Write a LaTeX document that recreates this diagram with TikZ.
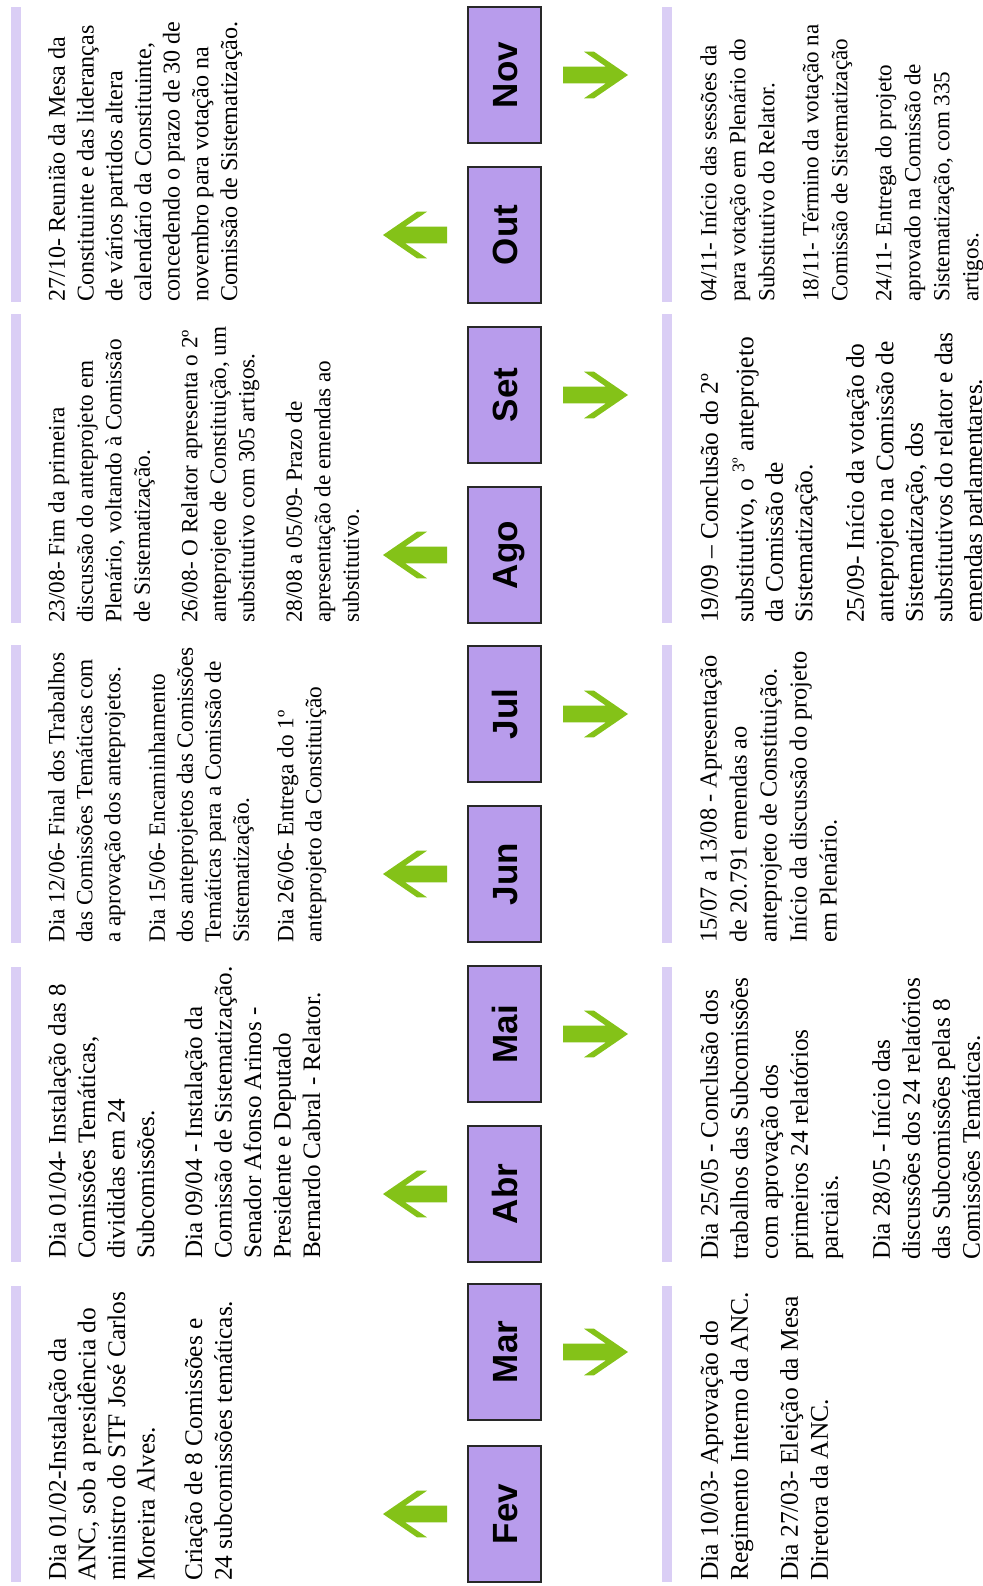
\documentclass[tikz,border=0pt]{standalone}
\usepackage{fontspec}
\setmainfont{Liberation Serif}
\newfontfamily\monthfont{Liberation Sans}
\newcommand\fsz[2]{\fontsize{#1}{#2}\selectfont}
\definecolor{boxfill}{RGB}{184,156,236}
\definecolor{boxline}{RGB}{40,40,40}
\definecolor{barcol}{RGB}{218,206,245}
\definecolor{agreen}{RGB}{132,194,24}
\tikzset{
  month/.style={draw=boxline, line width=1.5pt, fill=boxfill, rotate=90,
    minimum width=136pt, minimum height=73pt, inner sep=0pt,
    font=\monthfont\bfseries\fsz{35}{40}, text height=25pt, text depth=0pt},
  evt/.style={rotate=90, anchor=north west, inner sep=0pt, align=left},
  bar/.style={fill=barcol},
  larr/.pic={\fill[agreen] (0,0) -- (34,23.3) -- (44,23.3) -- (22,8.3) -- (64,8.3) -- (64,-8.3) -- (22,-8.3) -- (44,-23.3) -- (34,-23.3) -- cycle;},
  rarr/.pic={\fill[agreen] (0,0) -- (-34,23.3) -- (-44,23.3) -- (-22,8.3) -- (-65,8.3) -- (-65,-8.3) -- (-22,-8.3) -- (-44,-23.3) -- (-34,-23.3) -- cycle;}
}
\begin{document}
\begin{tikzpicture}[x=1pt,y=1pt]
\useasboundingbox (0,0) rectangle (982,-1586);
\fill[white] (0,0) rectangle (982,-1586);

% vertical bars
\fill[bar] (11,-7) rectangle (21,-302);
\fill[bar] (11,-314) rectangle (21,-623);
\fill[bar] (11,-645) rectangle (21,-943);
\fill[bar] (11,-967) rectangle (21,-1262);
\fill[bar] (11,-1286) rectangle (21,-1582);
\fill[bar] (662,-7) rectangle (672,-302);
\fill[bar] (662,-314) rectangle (672,-623);
\fill[bar] (662,-645) rectangle (672,-943);
\fill[bar] (662,-967) rectangle (672,-1262);
\fill[bar] (662,-1286) rectangle (672,-1582);

% month boxes
\node[month] (fev) at (504.5,-1514) {Fev};
\node[month] (mar) at (504.5,-1352) {Mar};
\node[month] (abr) at (504.5,-1194) {Abr};
\node[month] (mai) at (504.5,-1034) {Mai};
\node[month] (jun) at (504.5,-874) {Jun};
\node[month] (jul) at (504.5,-714) {Jul};
\node[month] (ago) at (504.5,-555) {Ago};
\node[month] (set) at (504.5,-395) {Set};
\node[month] (out) at (504.5,-235) {Out};
\node[month] (nov) at (504.5,-75) {Nov};

% arrows
\pic at ([xshift=-121.5pt]fev.center) {larr};
\pic at ([xshift=-121.5pt]abr.center) {larr};
\pic at ([xshift=-121.5pt]jun.center) {larr};
\pic at ([xshift=-121.5pt]ago.center) {larr};
\pic at ([xshift=-121.5pt]out.center) {larr};
\pic at ([xshift=123.5pt]mar.center) {rarr};
\pic at ([xshift=123.5pt]mai.center) {rarr};
\pic at ([xshift=123.5pt]jul.center) {rarr};
\pic at ([xshift=123.5pt]set.center) {rarr};
\pic at ([xshift=123.5pt]nov.center) {rarr};

% texts
\node[evt, font=\fsz{25.4}{29.6}] (tfev) at (48,-1581) {Dia 01/02-Instalação da\\ANC, sob a presidência do\\ministro do STF José Carlos\\Moreira Alves.\\[18pt]Criação de 8 Comissões e\\24 subcomissões temáticas.};
\node[evt, font=\fsz{25.5}{30}] (bfev) at (700,-1581) {Dia 10/03- Aprovação do\\Regimento Interno da ANC.\\[20pt]Dia 27/03- Eleição da Mesa\\Diretora da ANC.};

\node[evt, font=\fsz{25.1}{29.5}] (tabr) at (48,-1259) {Dia 01/04- Instalação das 8\\Comissões Temáticas,\\divididas em 24\\Subcomissões.\\[18.5pt]Dia 09/04 - Instalação da\\Comissão de Sistematização.\\Senador Afonso Arinos -\\Presidente e Deputado\\Bernardo Cabral - Relator.};
\node[evt, font=\fsz{25.3}{30}] (babr) at (700,-1260) {Dia 25/05 - Conclusão dos\\trabalhos das Subcomissões\\com aprovação dos\\primeiros 24 relatórios\\parciais.\\[22pt]Dia 28/05 - Início das\\discussões dos 24 relatórios\\das Subcomissões pelas 8\\Comissões Temáticas.};

\node[evt, font=\fsz{23.3}{28}] (tjun) at (48,-943) {Dia 12/06- Final dos Trabalhos\\das Comissões Temáticas com\\a aprovação dos anteprojetos.\\[16.5pt]Dia 15/06- Encaminhamento\\dos anteprojetos das Comissões\\Temáticas para a Comissão de\\Sistematização.\\[16.5pt]Dia 26/06- Entrega do 1º\\anteprojeto da Constituição};
\node[evt, font=\fsz{24.4}{30}] (bjun) at (700,-943) {15/07 a 13/08 - Apresentação\\de 20.791 emendas ao\\anteprojeto de Constituição.\\Início da discussão do projeto\\em Plenário.};

\node[evt, font=\fsz{23.2}{28.5}] (tago) at (48,-623) {23/08- Fim da primeira\\discussão do anteprojeto em\\Plenário, voltando à Comissão\\de Sistematização.\\[19pt]26/08- O Relator apresenta o 2º\\anteprojeto de Constituição, um\\substitutivo com 305 artigos.\\[19pt]28/08 a 05/09- Prazo de\\apresentação de emendas ao\\substitutivo.};
\node[evt, font=\fsz{25.4}{29.5}] (bago) at (700,-623) {19/09 – Conclusão do 2º\\[6pt]substitutivo, o \textsuperscript{3º} anteprojeto\\da Comissão de\\Sistematização.\\[22pt]25/09- Início da votação do\\anteprojeto na Comissão de\\Sistematização, dos\\substitutivos do relator e das\\emendas parlamentares.};

\node[evt, font=\fsz{24.1}{28.7}] (tout) at (48,-302) {27/10- Reunião da Mesa da\\Constituinte e das lideranças\\de vários partidos altera\\calendário da Constituinte,\\concedendo o prazo de 30 de\\novembro para votação na\\Comissão de Sistematização.};
\node[evt, font=\fsz{23.1}{29}] (bnov) at (700,-302) {04/11- Início das sessões da\\para votação em Plenário do\\Substitutivo do Relator.\\[15pt]18/11- Término da votação na\\Comissão de Sistematização\\[15pt]24/11- Entrega do projeto\\aprovado na Comissão de\\Sistematização, com 335\\artigos.};
\end{tikzpicture}
\end{document}
